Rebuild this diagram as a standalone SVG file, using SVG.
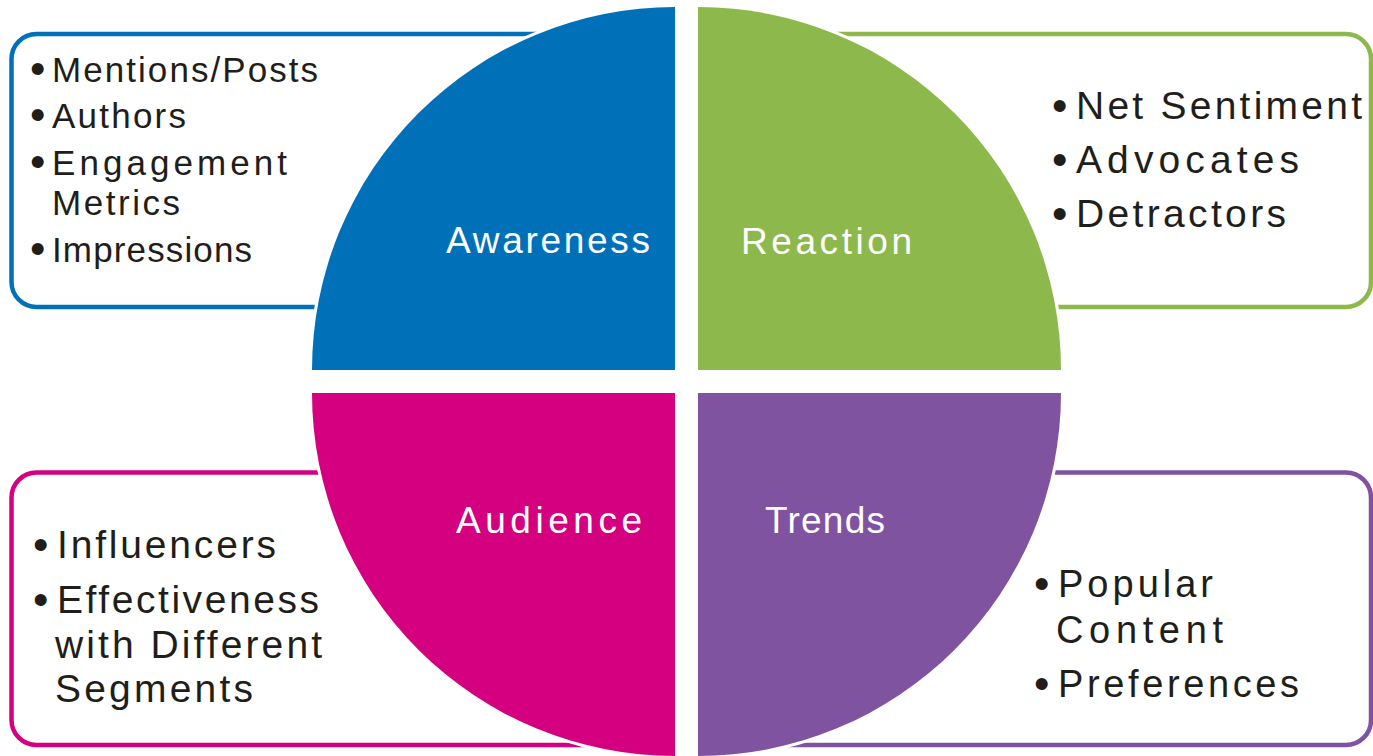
<svg xmlns="http://www.w3.org/2000/svg" width="1373" height="756" viewBox="0 0 1373 756">
  <style>
    .frame { fill: #ffffff; stroke-width: 4.5; }
    .quad { stroke: #ffffff; stroke-width: 6; paint-order: stroke; }
    .item { font-family: "Liberation Sans", Arial, sans-serif; fill: #1f1e1a; }
    .bul { font-family: "Liberation Sans", Arial, sans-serif; fill: #1f1e1a; font-size: 44px; }
    .label { font-family: "Liberation Sans", Arial, sans-serif; fill: #ffffff; font-size: 37px; }
  </style>
  <rect width="1373" height="756" fill="#ffffff"/>

  <!-- detail panels behind the circle -->
  <g id="panel-awareness">
    <rect class="frame" x="11.5" y="34" width="660" height="273" rx="25" stroke="#0070b8"/>
    <text class="bul" x="30" y="84">•</text>
    <text class="item" x="52" y="82" font-size="35" textLength="266" lengthAdjust="spacing">Mentions/Posts</text>
    <text class="bul" x="30" y="130">•</text>
    <text class="item" x="52" y="128" font-size="35" textLength="134" lengthAdjust="spacing">Authors</text>
    <text class="bul" x="30" y="177">•</text>
    <text class="item" x="52" y="175" font-size="35" textLength="235" lengthAdjust="spacing">Engagement</text>
    <text class="item" x="52" y="215" font-size="35" textLength="128" lengthAdjust="spacing">Metrics</text>
    <text class="bul" x="30" y="264">•</text>
    <text class="item" x="52" y="262" font-size="35" textLength="200" lengthAdjust="spacing">Impressions</text>
  </g>

  <g id="panel-reaction">
    <rect class="frame" x="720" y="34" width="651" height="273" rx="25" stroke="#8db84c"/>
    <text class="bul" x="1052" y="121">•</text>
    <text class="item" x="1076" y="119" font-size="39" textLength="286" lengthAdjust="spacing">Net Sentiment</text>
    <text class="bul" x="1052" y="175">•</text>
    <text class="item" x="1076" y="173" font-size="39" textLength="223" lengthAdjust="spacing">Advocates</text>
    <text class="bul" x="1052" y="229">•</text>
    <text class="item" x="1076" y="227" font-size="39" textLength="210" lengthAdjust="spacing">Detractors</text>
  </g>

  <g id="panel-audience">
    <rect class="frame" x="11.5" y="472.5" width="660" height="272.5" rx="25" stroke="#d4007f"/>
    <text class="bul" x="33" y="560">•</text>
    <text class="item" x="57" y="558" font-size="39" textLength="219" lengthAdjust="spacing">Influencers</text>
    <text class="bul" x="33" y="615">•</text>
    <text class="item" x="57" y="613" font-size="39" textLength="262" lengthAdjust="spacing">Effectiveness</text>
    <text class="item" x="55" y="658" font-size="39" textLength="267" lengthAdjust="spacing">with Different</text>
    <text class="item" x="55" y="702" font-size="39" textLength="198" lengthAdjust="spacing">Segments</text>
  </g>

  <g id="panel-trends">
    <rect class="frame" x="720" y="472.5" width="651" height="272.5" rx="25" stroke="#8053a1"/>
    <text class="bul" x="1034" y="599">•</text>
    <text class="item" x="1058" y="597" font-size="38" textLength="155" lengthAdjust="spacing">Popular</text>
    <text class="item" x="1056" y="643" font-size="38" textLength="167" lengthAdjust="spacing">Content</text>
    <text class="bul" x="1034" y="699">•</text>
    <text class="item" x="1058" y="697" font-size="38" textLength="241" lengthAdjust="spacing">Preferences</text>
  </g>

  <!-- four quarter sectors forming the central circle -->
  <g id="quad-awareness">
    <path class="quad" d="M675,370 H312 A363,363 0 0 1 675,7 Z" fill="#0070b8"/>
    <text class="label" x="446" y="253" textLength="204" lengthAdjust="spacing">Awareness</text>
  </g>
  <g id="quad-reaction">
    <path class="quad" d="M698,370 V7 A363,363 0 0 1 1061,370 Z" fill="#8db84c"/>
    <text class="label" x="741" y="254" textLength="171" lengthAdjust="spacing">Reaction</text>
  </g>
  <g id="quad-audience">
    <path class="quad" d="M675,393 V756 A363,363 0 0 1 312,393 Z" fill="#d4007f"/>
    <text class="label" x="456" y="533" textLength="186" lengthAdjust="spacing">Audience</text>
  </g>
  <g id="quad-trends">
    <path class="quad" d="M698,393 H1061 A363,363 0 0 1 698,756 Z" fill="#8053a1"/>
    <text class="label" x="765" y="533" textLength="120" lengthAdjust="spacing">Trends</text>
  </g>

  <g id="connectors"/>
</svg>
